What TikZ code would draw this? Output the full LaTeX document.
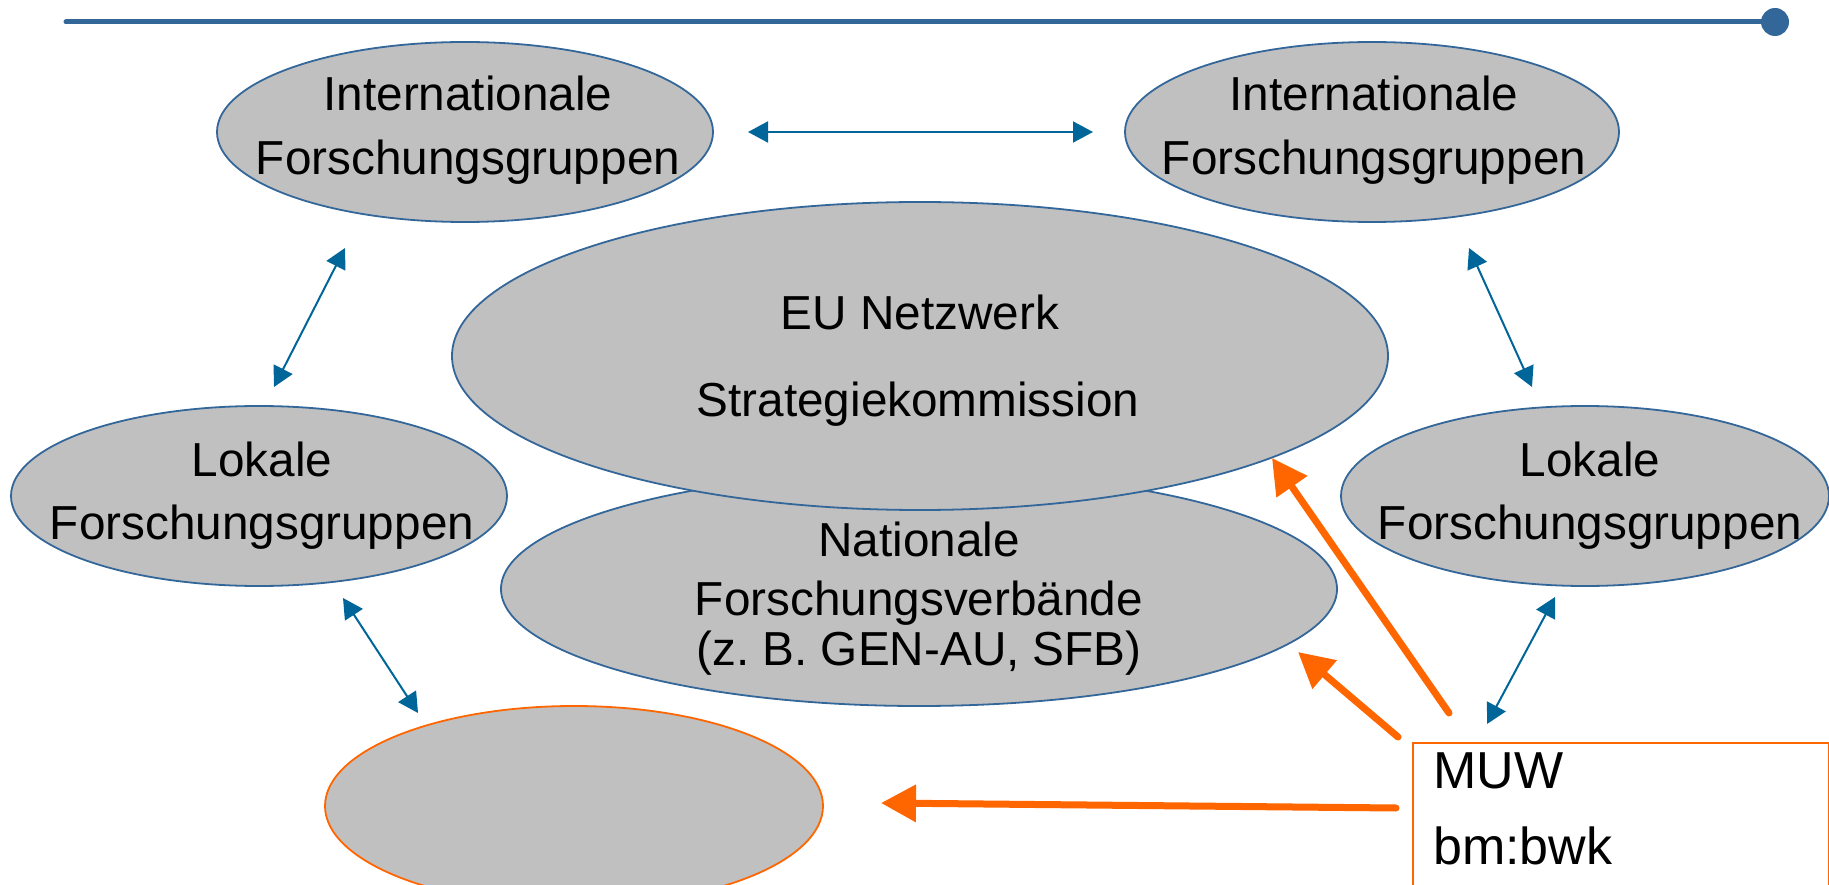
\documentclass[tikz,border=0pt]{standalone}
\usepackage{fontspec}
\setmainfont{Liberation Sans}
\usetikzlibrary{shapes.geometric,arrows.meta}
\definecolor{eblue}{HTML}{336699}
\definecolor{ablue}{HTML}{006699}
\definecolor{egray}{HTML}{C0C0C0}
\definecolor{orng}{HTML}{FF6600}
\frenchspacing
\begin{document}
\begin{tikzpicture}[x=1pt,y=-1pt,
  ell/.style={ellipse, draw=eblue, fill=egray, line width=1.8pt, inner sep=0pt},
  txt/.style={anchor=base, font=\fontsize{47.7}{56}\selectfont, inner sep=0pt},
  mtxt/.style={anchor=base west, font=\fontsize{52}{60}\selectfont, inner sep=0pt},
  barrow/.style={{Triangle[length=20pt,width=21pt]}-{Triangle[length=20pt,width=21pt]}, draw=ablue, line width=2pt},
  oarrow/.style={-{Triangle[length=35pt,width=36pt]}, draw=orng, line width=7pt, line cap=round}]
\useasboundingbox (0,0) rectangle (1829,885);
% top rule
\coordinate (ls) at (66,22);
\node[circle, fill=eblue, minimum size=28pt, inner sep=0pt] (dot) at (1775,22) {};
\draw[eblue, line width=5pt, line cap=round] (ls) -- (dot.center);
% ellipses
\node[ell, minimum width=496pt, minimum height=180pt] (int1) at (465,132) {};
\node[ell, minimum width=494pt, minimum height=180pt] (int2) at (1372,132) {};
\node[ell, minimum width=836pt, minimum height=234pt] (nat) at (919,589) {};
\node[ell, minimum width=936pt, minimum height=308pt] (eu) at (920,356) {};
\node[ell, minimum width=496pt, minimum height=180pt] (lok1) at (259,496) {};
\node[ell, minimum width=488pt, minimum height=180pt] (lok2) at (1585,496) {};
\node[ell, draw=orng, minimum width=498pt, minimum height=200pt] (bot) at (574,806) {};
\node[draw=orng, fill=white, line width=1.5pt, minimum width=416pt, minimum height=144pt, anchor=north west, inner sep=0pt] (muw) at (1412,742) {};
% texts
\node[txt] (t1a) at (468,111) {Internationale};
\node[txt] (t1b) at (468,175) {Forschungsgruppen};
\node[txt] (t2a) at (1374,111) {Internationale};
\node[txt] (t2b) at (1374,175) {Forschungsgruppen};
\node[txt] (eua) at (920,330) {EU Netzwerk};
\node[txt] (eub) at (918,416) {Strategiekommission};
\node[txt] (na) at (919,556) {Nationale};
\node[txt] (nb) at (919,615) {Forschungsverbände};
\node[txt] (nc) at (919,665) {(z. B. GEN-AU, SFB)};
\node[txt] (l1a) at (262,476) {Lokale};
\node[txt] (l1b) at (262,539) {Forschungsgruppen};
\node[txt] (l2a) at (1590,476) {Lokale};
\node[txt] (l2b) at (1590,539) {Forschungsgruppen};
\node[mtxt] (ma) at (1433,788) {MUW};
\node[mtxt] (mb) at (1433,864) {bm:bwk};
% blue arrows
\draw[barrow] ([shift={(283,0)}]int1.center) -- ([shift={(-279,0)}]int2.center);
\draw[barrow] ([shift={(-120,116)}]int1.center) -- ([shift={(15,-109)}]lok1.center);
\draw[barrow] ([shift={(97,116)}]int2.center) -- ([shift={(-53,-109)}]lok2.center);
\draw[barrow] ([shift={(84,102)}]lok1.center) -- ([shift={(-156,-93)}]bot.center);
\draw[barrow] ([shift={(-30,101)}]lok2.center) -- ([shift={(75,-18)}]muw.north west);
% orange arrows
\draw[oarrow] ([shift={(37,-29)}]muw.north west) -- ([shift={(352,102)}]eu.center);
\draw[oarrow] ([shift={(-14,-5)}]muw.north west) -- ([shift={(379,63)}]nat.center);
\draw[oarrow] ([shift={(-16,66)}]muw.north west) -- ([shift={(307,-3)}]bot.center);
\end{tikzpicture}
\end{document}
